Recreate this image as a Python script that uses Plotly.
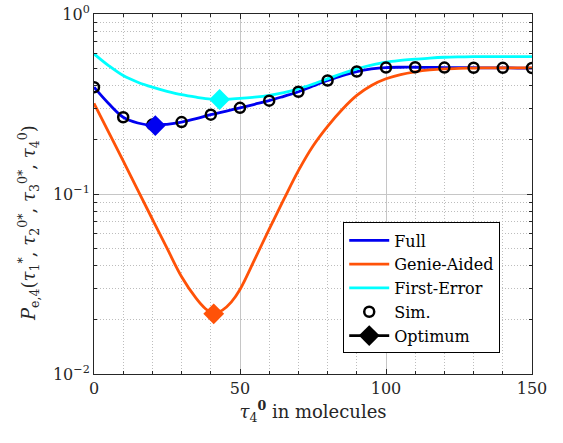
import plotly.graph_objects as go

# ---------------- data ----------------
x_full = list(range(0, 155, 5))
full_y = [0.392, 0.318, 0.267, 0.248, 0.241, 0.244, 0.251, 0.262, 0.276, 0.288,
          0.301, 0.315, 0.330, 0.349, 0.370, 0.398, 0.427, 0.455, 0.479, 0.495,
          0.504, 0.506, 0.506, 0.505, 0.504, 0.503, 0.503, 0.502, 0.502, 0.501, 0.501]

x_first = list(range(0, 155, 5))
first_y = [0.601, 0.517, 0.455, 0.418, 0.392, 0.372, 0.356, 0.345, 0.337, 0.336,
           0.340, 0.345, 0.353, 0.366, 0.384, 0.408, 0.436, 0.467, 0.496, 0.520,
           0.540, 0.552, 0.561, 0.569, 0.575, 0.578, 0.580, 0.580, 0.580, 0.580, 0.580]

x_genie = [0, 5, 10, 15, 20, 25, 30, 35, 38, 41, 44, 47,
           50, 55, 60, 65, 70, 75, 80, 85, 90, 95, 100, 105, 110, 115, 120, 125,
           130, 135, 140, 145, 150]
genie_y = [0.319, 0.221, 0.153, 0.105, 0.0724, 0.050, 0.0347, 0.0263, 0.0232, 0.0216,
           0.02265, 0.0251, 0.0295, 0.0432, 0.0638, 0.0933, 0.1349, 0.1849, 0.2377, 0.295,
           0.353, 0.401, 0.4365, 0.461, 0.4775, 0.4887, 0.4955, 0.499, 0.501, 0.502,
           0.502, 0.502, 0.502]

x_sim = list(range(0, 160, 10))
sim_y = [0.392, 0.267, 0.243, 0.251, 0.276, 0.301, 0.330, 0.370, 0.427, 0.479,
         0.504, 0.506, 0.504, 0.503, 0.502, 0.501]

opt_names = ["Full", "Genie-Aided", "First-Error"]
opt_x = [21, 41, 43]
opt_y = [0.240, 0.0216, 0.335]

x_major = [0, 50, 100, 150]
x_minor = [10, 20, 30, 40, 60, 70, 80, 90, 110, 120, 130, 140]
y_major = [0.01, 0.1, 1]
y_major_text = ["10<sup>−2</sup>", "10<sup>−1</sup>", "10<sup>0</sup>"]

# ---------------- style ----------------
C_FULL = "#0000F0"
C_GENIE = "#FF5208"
C_FIRST = "#00FFFF"
FONT = "DejaVu Serif"
LW = 2.8
AX = "#262626"

fig = go.Figure()
fig.add_trace(go.Scatter(x=x_full, y=full_y, mode="lines", name="Full",
                         line=dict(color=C_FULL, width=LW, shape="spline")))
fig.add_trace(go.Scatter(x=x_genie, y=genie_y, mode="lines", name="Genie-Aided",
                         line=dict(color=C_GENIE, width=LW, shape="spline")))
fig.add_trace(go.Scatter(x=x_first, y=first_y, mode="lines", name="First-Error",
                         line=dict(color=C_FIRST, width=LW, shape="spline")))
fig.add_trace(go.Scatter(x=x_sim, y=sim_y, mode="markers", name="Sim.",
                         marker=dict(symbol="circle-open", size=10, color="black",
                                     line=dict(width=2.5, color="black"))))
for nm, xx, yy, c in zip(opt_names, opt_x, opt_y, [C_FULL, C_GENIE, C_FIRST]):
    fig.add_trace(go.Scatter(x=[xx], y=[yy], mode="markers", showlegend=False,
                             marker=dict(symbol="diamond", size=16, color=c,
                                         line=dict(width=0))))
fig.add_trace(go.Scatter(x=[None], y=[None], mode="lines+markers", name="Optimum",
                         line=dict(color="black", width=LW),
                         marker=dict(symbol="diamond", size=16, color="black")))

axis_common = dict(showline=True, linecolor=AX, linewidth=1, mirror="ticks",
                   ticks="inside", ticklen=5, tickcolor=AX, automargin=False,
                   showgrid=True, gridcolor="#C6C6C6", gridwidth=1, zeroline=False,
                   tickfont=dict(family=FONT, size=16, color=AX))

fig.update_xaxes(range=[0, 150], tickvals=x_major,
                 title=dict(text="<i>τ</i><sub>4</sub><sup><b>0</b></sup> in molecules",
                            font=dict(family=FONT, size=18, color=AX), standoff=4),
                 minor=dict(tickvals=x_minor, ticks="inside", ticklen=3, tickcolor=AX,
                            showgrid=True, gridcolor="#BDBDBD", griddash="1px,2px", gridwidth=1),
                 **axis_common)

y_minor = [m * d for d in (0.01, 0.1) for m in range(2, 10)]
fig.update_yaxes(type="log", range=[-2, 0], tickvals=y_major, ticktext=y_major_text,
                 minor=dict(tickvals=y_minor, ticks="inside", ticklen=3, tickcolor=AX,
                            showgrid=True, gridcolor="#BDBDBD", griddash="1px,2px", gridwidth=1),
                 **axis_common)

fig.add_annotation(
    text="<i>P</i><sub>e,4</sub>(<i>τ</i><sub>1</sub><sup>*</sup>, "
         "<i>τ</i><sub>2</sub><sup>0*</sup>, <i>τ</i><sub>3</sub><sup>0*</sup>, "
         "<i>τ</i><sub>4</sub><sup>0</sup>)",
    textangle=-90, xref="paper", yref="paper", x=-0.15, y=0.42,
    xanchor="center", yanchor="middle", showarrow=False,
    font=dict(family=FONT, size=18, color=AX))

fig.update_layout(
    width=563, height=443,
    margin=dict(l=94, r=31, t=14, b=69),
    paper_bgcolor="white", plot_bgcolor="white",
    font=dict(family=FONT, size=16, color="black"),
    legend=dict(x=0.569, y=0.421, xanchor="left", yanchor="top",
                bgcolor="white", bordercolor="black", borderwidth=1,
                font=dict(family=FONT, size=16, color="black"),
                tracegroupgap=0, itemwidth=40),
    showlegend=True,
)

fig.write_html("out.html")
